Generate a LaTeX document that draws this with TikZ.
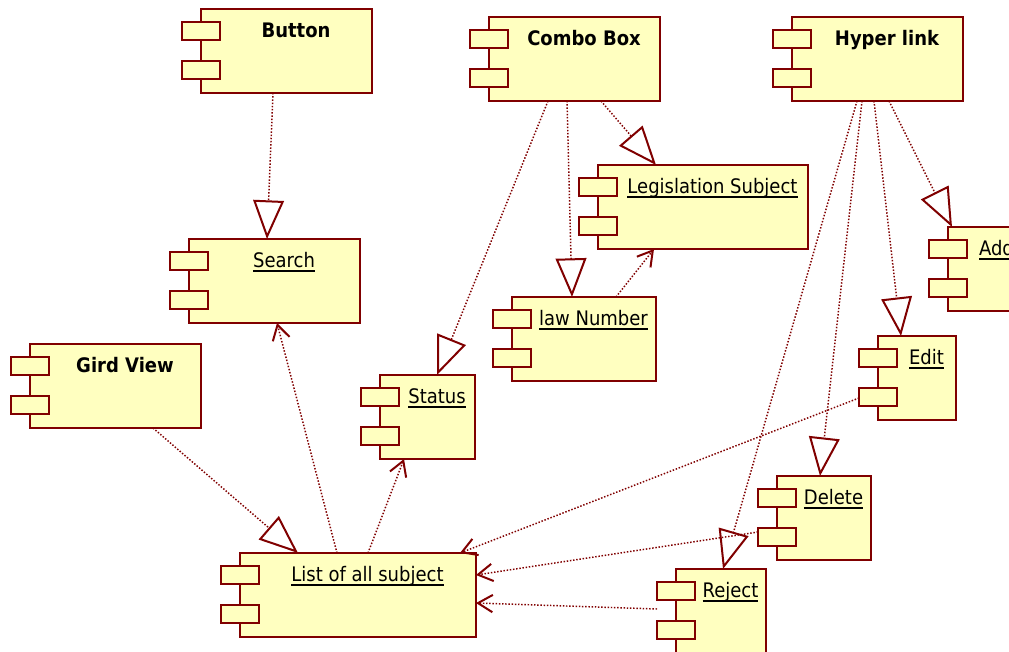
\documentclass[tikz,border=0pt]{standalone}
\usepackage{fontspec}
\setmainfont{DejaVu Sans Condensed}
\usetikzlibrary{arrows.meta,calc,positioning}
\definecolor{umlLine}{RGB}{128,0,0}
\definecolor{umlFill}{RGB}{255,255,192}
\newcommand{\uln}[1]{\setbox0\hbox{#1}\rlap{\rule[-3.2pt]{\wd0}{1.3pt}}\box0}
\tikzset{
    compBox/.style={
        rectangle,
        draw=umlLine,
        fill=umlFill,
        line width=1.5pt,
        inner sep=0pt,
        outer sep=0pt,
        minimum height=63pt
    },
    compTab/.style={compBox, minimum width=28.5pt, minimum height=13.5pt},
    % Labels
    compName/.style={font=\fontsize{15}{18}\selectfont, inner sep=0pt, anchor=base},
    compBold/.style={compName, font=\fontsize{15}{18}\selectfont\bfseries},
    % Connectors
    umlDots/.style={draw=umlLine, line width=1.1pt, dash pattern=on 1.1pt off 1.3pt},
    realize/.style={umlDots, -{Triangle[length=29pt, width=23pt, fill=white, line width=1.5pt]}},
    depend/.style={umlDots, -{Straight Barb[length=11pt, width=13pt, line width=1.5pt]}}
}
\begin{document}
\begin{tikzpicture}[x=0.75pt, y=-0.75pt]

\useasboundingbox (0,0) rectangle (1009,652);
\clip (0,0) rectangle (1009,652);

% --- Components ---
\foreach \name/\xx/\yy/\ww/\txt/\kind in {
    button/201/9/171/{Button}/0,
    combo/489/17/171/{Combo Box}/0,
    hyper/792/17/171/{Hyper link}/0,
    legis/598/165/210/{Legislation Subject}/1,
    search/189/239/171/{Search}/1,
    lawnum/512/297/144/{law Number}/1,
    gird/30/344/171/{Gird View}/0,
    status/380/375/95/{Status}/1,
    add/948/227/78/{Add}/1,
    edit/878/336/78/{Edit}/1,
    delete/777/476/94/{Delete}/1,
    list/240/553/236/{List of all subject}/1,
    reject/676/569/90/{Reject}/1
}{
    \node[compBox, minimum width=\ww*0.75pt, anchor=north west] (\name) at (\xx,\yy) {};
    \node[compTab, anchor=north west] (\name-t1) at ($(\name.north west)+(-19,13)$) {};
    \node[compTab, anchor=north west] (\name-t2) at ($(\name.north west)+(-19,52)$) {};
    \ifnum\kind=1
        \node[compName] (\name-txt) at ($(\name.north)+(9.5,28.5)$) {\uln{\txt}};
    \else
        \node[compBold] (\name-txt) at ($(\name.north)+(9.5,28.5)$) {\txt};
    \fi
}

% --- Realizations (hollow triangle) ---
\foreach \src/\sx/\sy/\dst/\dx/\dy in {
    button/72/84/search/78/0,
    combo/112/84/legis/58/0,
    combo/78/84/lawnum/60/0,
    combo/59/84/status/57/0,
    hyper/97/84/add/4/0,
    hyper/82/84/edit/23/0,
    hyper/70/84/delete/43/0,
    hyper/65/84/reject/47/0,
    gird/123/84/list/58/0
}{
    \draw[realize] ($(\src.north west)+(\sx,\sy)$) -- ($(\dst.north west)+(\dx,\dy)$);
}

% --- Dependencies (open arrow) ---
\foreach \src/\sx/\sy/\dst/\dx/\dy in {
    lawnum/104/0/legis/56/84,
    list/97/0/search/88/84,
    list/128/0/status/24/84,
    edit/-19/62/list/220/0,
    delete/-19/56/list/236/22,
    reject/-19/40/list/236/50
}{
    \draw[depend] ($(\src.north west)+(\sx,\sy)$) -- ($(\dst.north west)+(\dx,\dy)$);
}

\end{tikzpicture}
\end{document}
